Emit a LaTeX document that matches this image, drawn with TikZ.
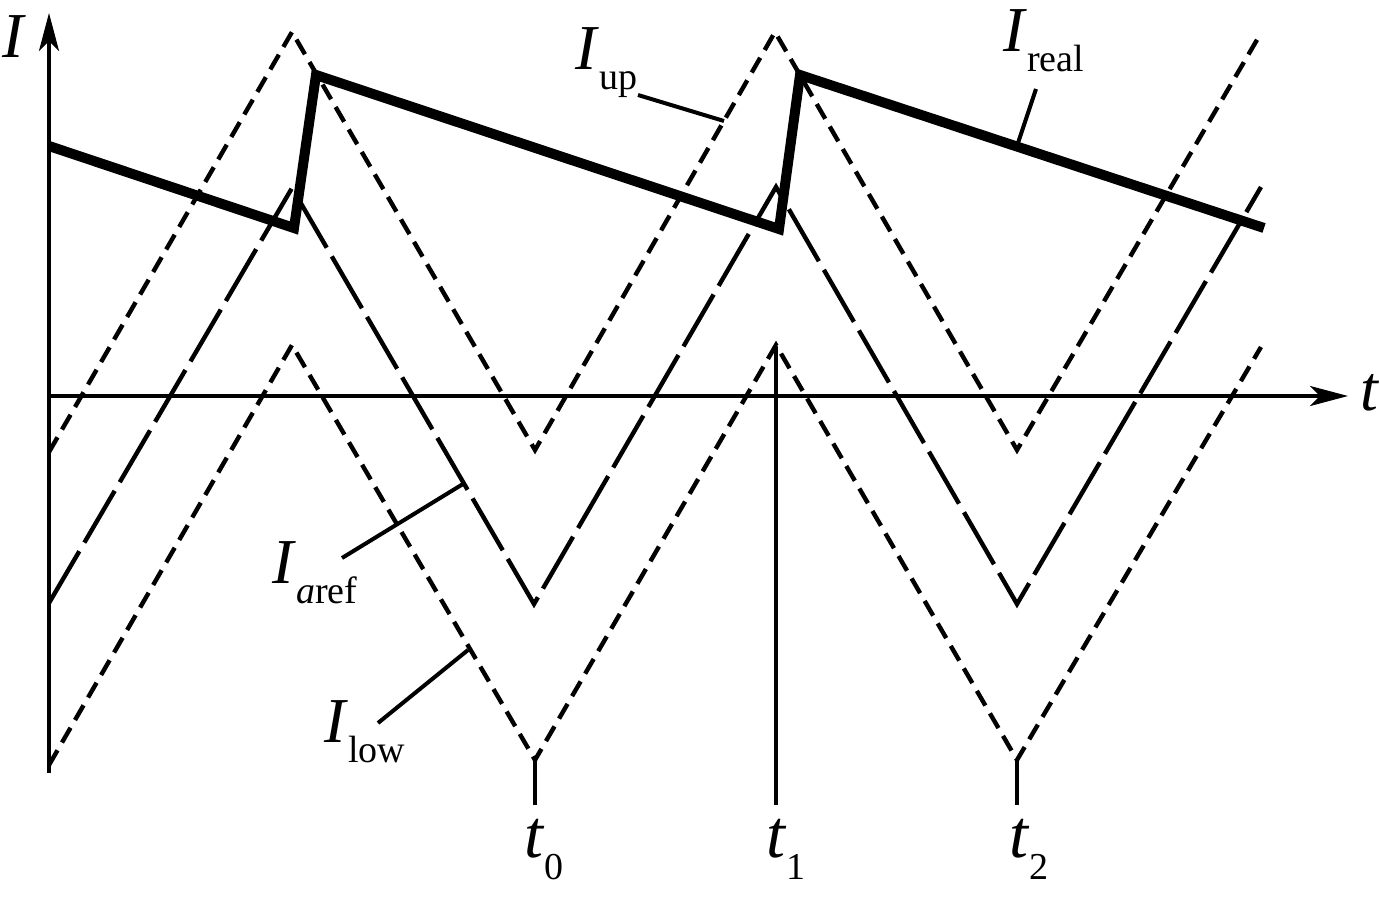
\documentclass[tikz,border=0pt]{standalone}
\usepackage{fontspec}
\setmainfont{Liberation Serif}
\usetikzlibrary{arrows.meta}
\newcommand\mainsize{\fontsize{32pt}{32pt}\selectfont}
\newcommand\subsize{\fontsize{19pt}{19pt}\selectfont}
\newcommand\cur[1]{\textit{I}\raisebox{-10pt}{\subsize #1}}
\newcommand\tim[1]{{\fontsize{34pt}{34pt}\selectfont\textit{t}}\raisebox{-11pt}{\subsize #1}}

\begin{document}
\begin{tikzpicture}[x=0.5pt,y=-0.5pt,
  axis/.style={line width=2pt,-{Stealth[length=19pt,width=10pt,inset=5pt]}},
  shortdash/.style={line width=2.2pt,dash pattern=on 8.5pt off 4.5pt},
  longdash/.style={line width=2.2pt,dash pattern=on 30pt off 5pt},
  realline/.style={line width=5pt,line join=miter},
  leader/.style={line width=2pt},
  lab/.style={inner sep=0pt,anchor=base west,font=\mainsize}]
  \useasboundingbox (0,0) rectangle (1380,899);
  % axes
  \draw[axis] (49,773) -- (49,13);
  \draw[axis] (49,396) -- (1348,396);
  \node[lab] (ilab) at (2,58) {\textit{I}};
  \node[lab] (tlab) at (1360,410) {\textit{t}};
  % time marks
  \draw[leader] (535,760) -- (535,805);
  \draw[leader] (776,347) -- (776,805);
  \draw[leader] (1017,760) -- (1017,805);
  \node[lab] (t0) at (524,857) {\tim{0}};
  \node[lab] (t1) at (766,857) {\tim{1}};
  \node[lab] (t2) at (1009,857) {\tim{2}};
  % bands and reference
  \draw[shortdash] (49,452) -- (292,32) -- (535,450) -- (775,32) -- (1017,450) -- (1261,33);
  \draw[longdash] (49,603) -- (292,188) -- (534,604) -- (776,187) -- (1017,604) -- (1261,187);
  \draw[shortdash] (49,765) -- (292,345) -- (535,760) -- (776,345) -- (1017,760) -- (1261,347);
  % real current
  \draw[realline] (49,146) -- (294,228) -- (316,75) -- (779,229) -- (800,75) -- (1264,228);
  % labels
  \node[lab] (up) at (575,69) {\cur{up}};
  \node[lab] (real) at (1003,52) {\cur{real}};
  \node[lab] (aref) at (272,583) {\cur{\textit{a}ref}};
  \node[lab] (low) at (324,742) {\cur{low}};
  \coordinate (upa) at (638,95);   \coordinate (upb) at (724,121);
  \coordinate (reala) at (1036,89); \coordinate (realb) at (1017,146);
  \coordinate (arefa) at (342,558); \coordinate (arefb) at (463,484);
  \coordinate (lowa) at (378,723);  \coordinate (lowb) at (468,650);
  \draw[leader] (upa) -- (upb);
  \draw[leader] (reala) -- (realb);
  \draw[leader] (arefa) -- (arefb);
  \draw[leader] (lowa) -- (lowb);
\end{tikzpicture}
\end{document}
